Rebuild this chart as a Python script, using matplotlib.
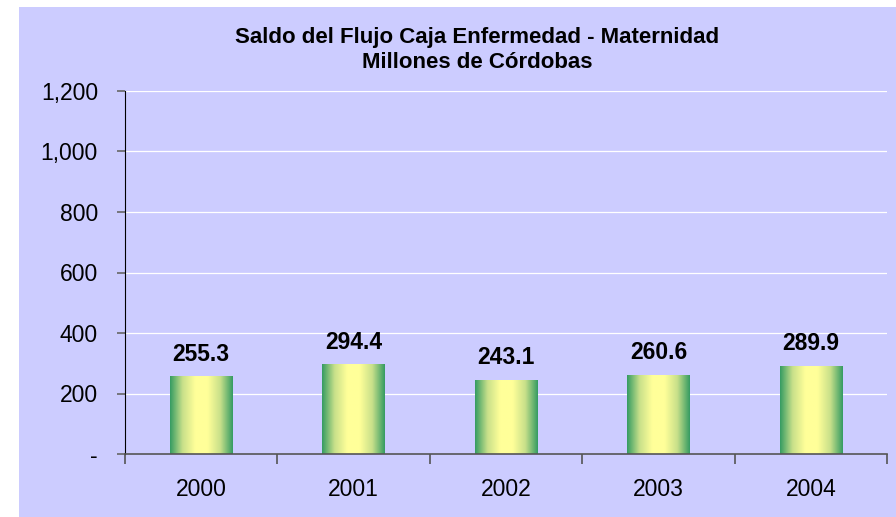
import numpy as np
import matplotlib.pyplot as plt
import matplotlib.ticker as ticker
from matplotlib.colors import LinearSegmentedColormap
from matplotlib.patches import Rectangle

# data
years = ['2000', '2001', '2002', '2003', '2004']
saldo = [255.3, 294.4, 243.1, 260.6, 289.9]
yticks = [0, 200, 400, 600, 800, 1000, 1200]

plt.rcParams['font.family'] = ['Liberation Sans', 'DejaVu Sans']

bg = '#CCCCFF'
fig = plt.figure(figsize=(8.96, 5.17), dpi=100)
fig.patch.set_facecolor('white')
# lavender chart area (leaves a thin white strip at left/top)
fig.patches.append(Rectangle((19 / 896, 0), 1, 1 - 7 / 517, transform=fig.transFigure,
                             facecolor=bg, edgecolor='none', zorder=-5))

ax = fig.add_axes([125 / 896, 1 - 454 / 517, (887 - 125) / 896, (454 - 91) / 517])
ax.set_facecolor(bg)
ax.patch.set_alpha(0)

# green-yellow-green horizontal gradient for bars
cmap = LinearSegmentedColormap.from_list('barg', ['#359B62', '#C8E08A', '#FFFF99', '#FFFF99', '#C8E08A', '#359B62'])
grad = np.linspace(0, 1, 256).reshape(1, -1)

x = np.arange(len(years))
bw = 0.41
for xi, v in zip(x, saldo):
    ax.imshow(grad, cmap=cmap, aspect='auto', extent=(xi - bw / 2, xi + bw / 2, 0, v),
              zorder=2, interpolation='bilinear')
    ax.annotate(f'{v:.1f}', (xi, v), xytext=(0, 11.5), textcoords='offset points',
                ha='center', va='baseline', fontsize=16.5, fontweight='bold', color='black')

ax.set_xlim(-0.5, len(years) - 0.5)
ax.set_ylim(0, 1200)

ax.set_yticks(yticks)
ax.yaxis.set_major_formatter(ticker.FuncFormatter(lambda v, p: '-' if v == 0 else f'{v:,.0f}'))
ax.grid(axis='y', color='white', linewidth=0.9, zorder=1)
ax.set_axisbelow(True)

ax.set_xticks(x)
ax.set_xticklabels(years)
ax.set_xticks(np.arange(-0.5, len(years)), minor=True)
ax.tick_params(axis='x', which='major', length=0, pad=17, labelsize=16.5)
ax.tick_params(axis='x', which='minor', length=7, color='#555555', width=1.2)
ax.tick_params(axis='y', length=6, color='#666666', width=1.2, pad=13.5, labelsize=16.5)

for s in ['top', 'right']:
    ax.spines[s].set_visible(False)
ax.spines['left'].set_color('black')
ax.spines['bottom'].set_color('#555555')
ax.spines['bottom'].set_linewidth(1.2)

fig.text(477 / 896, 1 - 37 / 517, 'Saldo del Flujo Caja Enfermedad - Maternidad',
         ha='center', va='center', fontsize=16, fontweight='bold')
fig.text(477 / 896, 1 - 62 / 517, 'Millones de Córdobas',
         ha='center', va='center', fontsize=16, fontweight='bold')

fig.savefig('out.png', dpi=100)
